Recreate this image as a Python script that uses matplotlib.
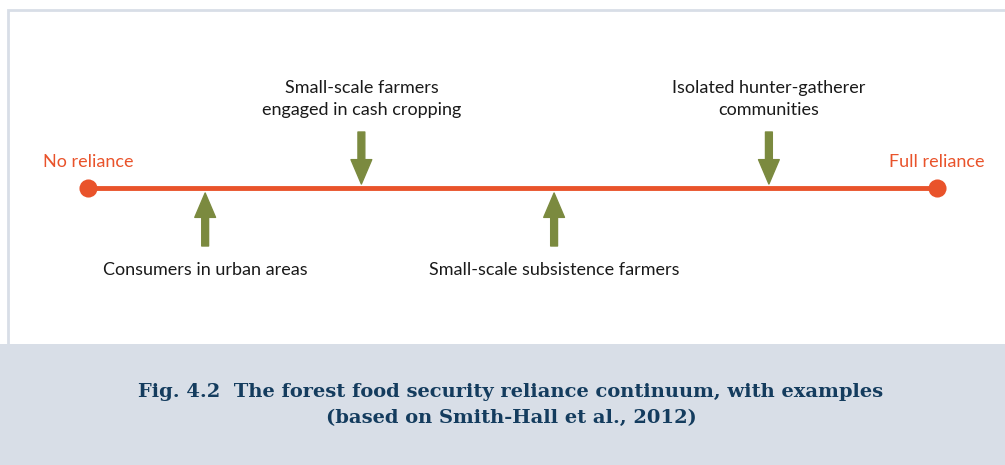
import matplotlib.pyplot as plt
from matplotlib.patches import Rectangle

# reliance continuum: 0 = no reliance, 1 = full reliance
ends = [0.0, 1.0]
end_labels = ["No reliance", "Full reliance"]

# examples placed along the continuum
above_pos = [0.322, 0.802]
above_labels = ["Small-scale farmers\nengaged in cash cropping",
                "Isolated hunter-gatherer\ncommunities"]
below_pos = [0.138, 0.549]
below_labels = ["Consumers in urban areas", "Small-scale subsistence farmers"]

caption = ("Fig. 4.2  The forest food security reliance continuum, with examples\n"
           "(based on Smith-Hall et al., 2012)")

orange = "#e9532b"
olive = "#7b8a3f"
frame = "#d8dee7"
navy = "#143c5e"

W, H = 1005, 465
fig = plt.figure(figsize=(W / 100, H / 100), dpi=100)

# frame + caption band (figure pixel fractions)
fig.patches.append(Rectangle((8 / W, 0), 1, (H - 10) / H, transform=fig.transFigure,
                             fill=False, edgecolor=frame, linewidth=2, zorder=0))
fig.patches.append(Rectangle((0, 0), 1, (H - 344) / H, transform=fig.transFigure,
                             facecolor=frame, edgecolor="none", zorder=0))

ax = fig.add_axes([0, 0, 1, 1])
ax.set_zorder(2)
ax.set_xlim(-88 / 849, (W - 88) / 849)
ax.set_ylim(H, 0)
ax.axis("off")

line_y = 188
ax.plot(ends, [line_y, line_y], color=orange, lw=3.5, solid_capstyle="butt", zorder=2)
ax.scatter(ends, [line_y, line_y], s=170, color=orange, zorder=3, linewidths=0)
for x, lab in zip(ends, end_labels):
    ax.text(x, 162, lab, ha="center", va="center", color=orange,
            fontsize=13, family="Lato")

arrow_kw = dict(arrowstyle="simple,head_length=1.35,head_width=1.15,tail_width=0.38",
                color=olive, mutation_scale=13, shrinkA=0, shrinkB=0)

for x, lab in zip(above_pos, above_labels):
    ax.annotate("", xy=(x, 184), xytext=(x, 132), arrowprops=arrow_kw)
    ax.text(x, 99, lab, ha="center", va="center", color="#1a1a1a",
            fontsize=13, family="Lato", linespacing=1.5)

for x, lab in zip(below_pos, below_labels):
    ax.annotate("", xy=(x, 193), xytext=(x, 246), arrowprops=arrow_kw)
    ax.text(x, 270, lab, ha="center", va="center", color="#1a1a1a",
            fontsize=13, family="Lato")

ax.text((511 - 88) / 849, 405, caption, ha="center", va="center", color=navy,
        fontsize=14, fontweight="bold", family="DejaVu Serif", linespacing=1.55)

fig.savefig("out.png", dpi=100)
